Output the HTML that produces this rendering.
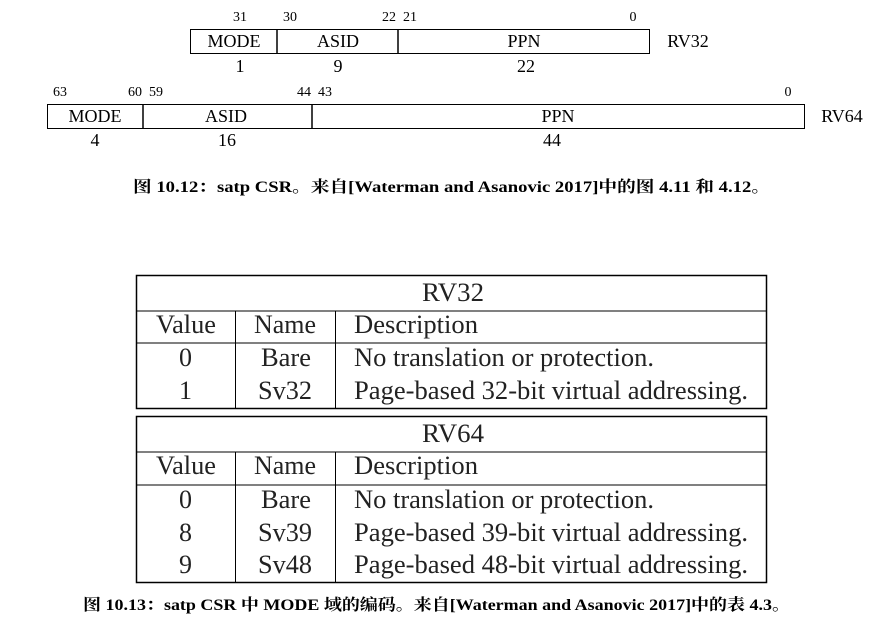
<!DOCTYPE html>
<html><head><meta charset="utf-8"><style>
body{margin:0;background:#fff;}
svg{display:block;}
text{font-family:"Liberation Serif","Noto Serif CJK SC",serif;}
</style></head><body>
<svg width="882" height="630" xmlns="http://www.w3.org/2000/svg">
<g fill="#000">
<rect x="190.5" y="29.5" width="459" height="24" fill="none" stroke="#000"/>
<line x1="277" y1="29" x2="277" y2="54" stroke="#000" stroke-width="1.5"/>
<line x1="398" y1="29" x2="398" y2="54" stroke="#000" stroke-width="1.5"/>
<g font-size="14" text-anchor="middle">
<text x="240" y="21">31</text><text x="290" y="21">30</text><text x="389" y="21">22</text><text x="410" y="21">21</text><text x="633" y="21">0</text>
</g>
<g font-size="18" text-anchor="middle">
<text x="234" y="47">MODE</text><text x="338" y="47">ASID</text><text x="524" y="47">PPN</text>
<text x="240" y="72">1</text><text x="338" y="72">9</text><text x="526" y="72">22</text>
<text x="688" y="47">RV32</text>
</g>
<rect x="47.5" y="104.5" width="757" height="24" fill="none" stroke="#000"/>
<line x1="143" y1="104" x2="143" y2="129" stroke="#000" stroke-width="1.5"/>
<line x1="312" y1="104" x2="312" y2="129" stroke="#000" stroke-width="1.5"/>
<g font-size="14" text-anchor="middle">
<text x="60" y="96">63</text><text x="135" y="96">60</text><text x="156" y="96">59</text><text x="304" y="96">44</text><text x="325" y="96">43</text><text x="788" y="96">0</text>
</g>
<g font-size="18" text-anchor="middle">
<text x="95" y="122">MODE</text><text x="226" y="122">ASID</text><text x="558" y="122">PPN</text>
<text x="95" y="146">4</text><text x="227" y="146">16</text><text x="552" y="146">44</text>
<text x="842" y="122">RV64</text>
</g>
<text x="133" y="192" font-size="16" font-weight="bold" textLength="637" lengthAdjust="spacingAndGlyphs">图 10.12：satp CSR。来自[Waterman and Asanovic 2017]中的图 4.11 和 4.12。</text>

<g stroke="#000" fill="none">
<rect x="136.5" y="275.5" width="630" height="133" stroke-width="1.5"/>
<line x1="136" y1="311" x2="767" y2="311"/>
<line x1="136" y1="343" x2="767" y2="343"/>
<line x1="235.5" y1="311" x2="235.5" y2="408"/>
<line x1="335.5" y1="311" x2="335.5" y2="408"/>
<rect x="136.5" y="416.5" width="630" height="166" stroke-width="1.5"/>
<line x1="136" y1="452" x2="767" y2="452"/>
<line x1="136" y1="485" x2="767" y2="485"/>
<line x1="235.5" y1="452" x2="235.5" y2="583"/>
<line x1="335.5" y1="452" x2="335.5" y2="583"/>
</g>
<g font-size="26" fill="#222" lengthAdjust="spacingAndGlyphs">
<text x="422" y="301" textLength="62" lengthAdjust="spacingAndGlyphs">RV32</text>
<text x="156" y="333" textLength="60" lengthAdjust="spacingAndGlyphs">Value</text><text x="254" y="333" textLength="62" lengthAdjust="spacingAndGlyphs">Name</text><text x="354" y="333" textLength="124" lengthAdjust="spacingAndGlyphs">Description</text>
<text x="179" y="366">0</text><text x="261" y="366" textLength="50" lengthAdjust="spacingAndGlyphs">Bare</text><text x="354" y="366" textLength="300" lengthAdjust="spacingAndGlyphs">No translation or protection.</text>
<text x="179" y="399">1</text><text x="258" y="399" textLength="54" lengthAdjust="spacingAndGlyphs">Sv32</text><text x="354" y="399" textLength="394" lengthAdjust="spacingAndGlyphs">Page-based 32-bit virtual addressing.</text>
<text x="422" y="442" textLength="62" lengthAdjust="spacingAndGlyphs">RV64</text>
<text x="156" y="474" textLength="60" lengthAdjust="spacingAndGlyphs">Value</text><text x="254" y="474" textLength="62" lengthAdjust="spacingAndGlyphs">Name</text><text x="354" y="474" textLength="124" lengthAdjust="spacingAndGlyphs">Description</text>
<text x="179" y="508">0</text><text x="261" y="508" textLength="50" lengthAdjust="spacingAndGlyphs">Bare</text><text x="354" y="508" textLength="300" lengthAdjust="spacingAndGlyphs">No translation or protection.</text>
<text x="179" y="541">8</text><text x="258" y="541" textLength="54" lengthAdjust="spacingAndGlyphs">Sv39</text><text x="354" y="541" textLength="394" lengthAdjust="spacingAndGlyphs">Page-based 39-bit virtual addressing.</text>
<text x="179" y="573">9</text><text x="258" y="573" textLength="54" lengthAdjust="spacingAndGlyphs">Sv48</text><text x="354" y="573" textLength="394" lengthAdjust="spacingAndGlyphs">Page-based 48-bit virtual addressing.</text>
</g>
<text x="83" y="610" font-size="16" font-weight="bold" textLength="707" lengthAdjust="spacingAndGlyphs">图 10.13：satp CSR 中 MODE 域的编码。来自[Waterman and Asanovic 2017]中的表 4.3。</text>
</g>
</svg>
</body></html>
